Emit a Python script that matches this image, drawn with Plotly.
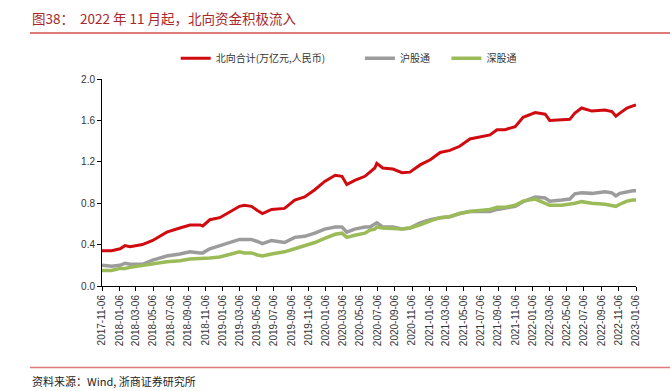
import plotly.graph_objects as go

dates = [
    "2017-11-06", "2017-12-10", "2018-01-09", "2018-01-26", "2018-02-13", "2018-03-29",
    "2018-05-04", "2018-06-23", "2018-08-08", "2018-09-13", "2018-10-18", "2018-10-28",
    "2018-11-22", "2018-12-27", "2019-01-22", "2019-03-07", "2019-03-24", "2019-04-18",
    "2019-05-09", "2019-05-27", "2019-06-28", "2019-08-13", "2019-09-18", "2019-10-23",
    "2019-11-28", "2020-01-02", "2020-02-08", "2020-03-03", "2020-03-20", "2020-04-17",
    "2020-05-23", "2020-06-10", "2020-06-27", "2020-07-04", "2020-07-25", "2020-08-30",
    "2020-10-01", "2020-10-29", "2020-12-04", "2021-01-09", "2021-02-13", "2021-03-19",
    "2021-04-23", "2021-05-29", "2021-07-03", "2021-08-08", "2021-09-02", "2021-09-30",
    "2021-11-05", "2021-12-03", "2022-01-15", "2022-02-19", "2022-03-07", "2022-04-19",
    "2022-05-17", "2022-06-04", "2022-06-28", "2022-08-03", "2022-09-18", "2022-10-13",
    "2022-10-27", "2022-11-10", "2022-12-05", "2022-12-26", "2023-01-06",
]

north_total = [
    0.34, 0.34, 0.36, 0.39, 0.38, 0.40,
    0.44, 0.52, 0.56, 0.59, 0.59, 0.58,
    0.64, 0.66, 0.70, 0.77, 0.78, 0.77,
    0.73, 0.70, 0.74, 0.75, 0.83, 0.86,
    0.93, 1.01, 1.07, 1.06, 0.98, 1.02,
    1.06, 1.10, 1.14, 1.185, 1.14, 1.13,
    1.095, 1.10, 1.17, 1.22, 1.29, 1.31,
    1.35, 1.42, 1.44, 1.46, 1.51, 1.51,
    1.54, 1.63, 1.675, 1.66, 1.60, 1.61,
    1.61, 1.67, 1.72, 1.69, 1.70, 1.685,
    1.64, 1.67, 1.72, 1.74, 1.75,
]

shanghai = [
    0.20, 0.19, 0.20, 0.22, 0.21, 0.21,
    0.25, 0.29, 0.31, 0.33, 0.32, 0.32,
    0.36, 0.39, 0.41, 0.45, 0.45, 0.45,
    0.43, 0.41, 0.44, 0.42, 0.47, 0.48,
    0.51, 0.55, 0.57, 0.57, 0.52, 0.55,
    0.57, 0.57, 0.60, 0.61, 0.57, 0.57,
    0.55, 0.56, 0.61, 0.64, 0.66, 0.67,
    0.70, 0.72, 0.72, 0.72, 0.74, 0.75,
    0.77, 0.815, 0.86, 0.85, 0.82, 0.83,
    0.84, 0.89, 0.90, 0.895, 0.91, 0.90,
    0.87, 0.895, 0.91, 0.92, 0.92,
]

shenzhen = [
    0.15, 0.15, 0.17, 0.17, 0.18, 0.20,
    0.21, 0.235, 0.245, 0.26, 0.265, 0.265,
    0.27, 0.28, 0.30, 0.33, 0.32, 0.32,
    0.30, 0.29, 0.31, 0.33, 0.36, 0.39,
    0.42, 0.46, 0.50, 0.51, 0.47, 0.49,
    0.51, 0.54, 0.55, 0.57, 0.56, 0.555,
    0.55, 0.56, 0.59, 0.63, 0.66, 0.67,
    0.70, 0.72, 0.73, 0.74, 0.76, 0.76,
    0.78, 0.82, 0.84, 0.80, 0.78, 0.78,
    0.79, 0.80, 0.815, 0.80, 0.79, 0.78,
    0.77, 0.79, 0.82, 0.83, 0.83,
]

tick_dates = [
    "2017-11-06", "2018-01-06", "2018-03-06", "2018-05-06", "2018-07-06", "2018-09-06",
    "2018-11-06", "2019-01-06", "2019-03-06", "2019-05-06", "2019-07-06", "2019-09-06",
    "2019-11-06", "2020-01-06", "2020-03-06", "2020-05-06", "2020-07-06", "2020-09-06",
    "2020-11-06", "2021-01-06", "2021-03-06", "2021-05-06", "2021-07-06", "2021-09-06",
    "2021-11-06", "2022-01-06", "2022-03-06", "2022-05-06", "2022-07-06", "2022-09-06",
    "2022-11-06", "2023-01-06",
]
y_ticks = [0.0, 0.4, 0.8, 1.2, 1.6, 2.0]

series_names = ["北向合计(万亿元,人民币)", "沪股通", "深股通"]

CJK = "Noto Sans CJK SC"
fig = go.Figure()
fig.add_trace(go.Scatter(x=dates, y=north_total, mode="lines", name=series_names[0],
                         line=dict(color="#D10A0F", width=3), legend="legend"))
fig.add_trace(go.Scatter(x=dates, y=shanghai, mode="lines", name=series_names[1],
                         line=dict(color="#9C9C9C", width=3.5), legend="legend2"))
fig.add_trace(go.Scatter(x=dates, y=shenzhen, mode="lines", name=series_names[2],
                         line=dict(color="#9BBB59", width=3.5), legend="legend3"))

leg_common = dict(orientation="h", yanchor="middle", xanchor="left",
                  font=dict(family=CJK, size=10, color="#333333"),
                  itemwidth=30, bgcolor="rgba(0,0,0,0)")

fig.update_layout(
    width=670, height=391,
    margin=dict(l=102, r=34, t=79, b=105),
    paper_bgcolor="white", plot_bgcolor="white",
    font=dict(family="Liberation Sans, Arial", size=10, color="#333333"),
    showlegend=True,
    legend=dict(x=0.138, y=1.10, **leg_common),
    legend2=dict(x=0.483, y=1.10, **leg_common),
    legend3=dict(x=0.645, y=1.10, **leg_common),
    xaxis=dict(
        type="date",
        range=["2017-11-06", "2023-01-06"],
        tickmode="array", tickvals=tick_dates, ticktext=tick_dates,
        tickangle=-90, ticks="outside", ticklen=4, tickcolor="#000000",
        showline=True, linecolor="#000000", linewidth=1,
        showgrid=False, zeroline=False,
        tickfont=dict(family="Liberation Sans, Arial", size=10, color="#333333"),
    ),
    yaxis=dict(
        range=[0, 2.0],
        tickmode="array", tickvals=y_ticks, ticktext=[f"{v:.1f}" for v in y_ticks],
        ticks="outside", ticklen=4, tickcolor="#000000",
        showline=True, linecolor="#000000", linewidth=1,
        showgrid=False, zeroline=False,
        tickfont=dict(family="Liberation Sans, Arial", size=10, color="#333333"),
    ),
)

# header title and rule
fig.add_annotation(xref="paper", yref="paper", x=-0.135, y=1.295, xanchor="left", yanchor="middle",
                   text="图38：  2022 年 11 月起，北向资金积极流入", showarrow=False,
                   font=dict(family=CJK, size=13.5, color="#A8282B"))
fig.add_shape(type="line", xref="paper", yref="paper", x0=-0.135, x1=1.064, y0=1.222, y1=1.222,
              line=dict(color="#E07A7A", width=2))
# footer rule and source
fig.add_annotation(xref="paper", yref="paper", x=-0.135, y=-0.458, xanchor="left", yanchor="middle",
                   text="资料来源：Wind, 浙商证券研究所", showarrow=False,
                   font=dict(family=CJK, size=11, color="#222222"))
fig.add_shape(type="line", xref="paper", yref="paper", x0=-0.135, x1=1.064, y0=-0.394, y1=-0.394,
              line=dict(color="#E07A7A", width=1.5))

fig.write_html("out.html", config={"displayModeBar": False},
               post_script="document.body.style.margin='0';")
